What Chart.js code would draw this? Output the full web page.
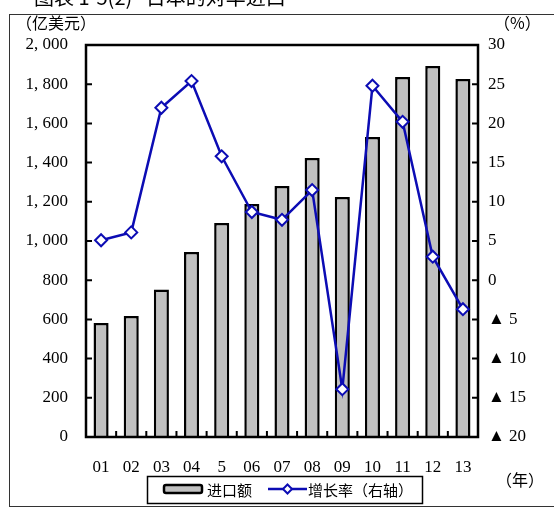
<!DOCTYPE html>
<html>
<head>
<meta charset="utf-8">
<script src="https://cdn.jsdelivr.net/npm/chart.js@4"></script>
<style>
  body { margin: 0; background: #fff; }
  canvas { display: block; }
</style>
</head>
<body>
<canvas id="js--chart" width="554" height="508" style="width:554px;height:508px"></canvas>
<script>
const years = ['01', '02', '03', '04', '5', '06', '07', '08', '09', '10', '11', '12', '13'];
const imports = [581, 617, 752, 944, 1092, 1189, 1281, 1423, 1224, 1530, 1837, 1893, 1827]; // 亿美元
const growth = [5.1, 6.1, 22.0, 25.4, 15.8, 8.7, 7.7, 11.5, -13.9, 24.8, 20.2, 3.0, -3.7]; // %

const serif = "'Liberation Serif', 'Noto Sans CJK SC', serif";
const cjk = "'Noto Sans CJK SC', sans-serif";
const lineBlue = '#0c0cb4';

const ctx = document.getElementById("js--chart").getContext("2d");

// frame, plot box, inward ticks, unit labels and the legend
const decor = {
    id: 'decor',
    afterDraw(chart) {
        const c = chart.ctx;
        const a = chart.chartArea;
        const yL = chart.scales.y;
        const yR = chart.scales.y2;
        const x = chart.scales.x;
        c.save();

        // cut-off caption at the very top
        c.fillStyle = '#000';
        c.font = '20px ' + cjk;
        c.textBaseline = 'alphabetic';
        c.textAlign = 'left';
        c.fillText('图表 1-5(2)   日本的对华进口', 34, 5);

        // outer frame
        c.strokeStyle = '#333';
        c.lineWidth = 1;
        c.strokeRect(9.5, 14.5, 600, 492);

        // plot box
        c.strokeStyle = '#000';
        c.lineWidth = 2.5;
        c.strokeRect(a.left, a.top, a.right - a.left, a.bottom - a.top);

        // inward ticks
        c.lineWidth = 2;
        c.beginPath();
        yL.ticks.forEach(t => {
            const py = yL.getPixelForValue(t.value);
            c.moveTo(a.left, py); c.lineTo(a.left + 6, py);
        });
        yR.ticks.forEach(t => {
            const py = yR.getPixelForValue(t.value);
            c.moveTo(a.right, py); c.lineTo(a.right - 6, py);
        });
        for (let i = 0; i < years.length; i++) {
            const px = (x.getPixelForValue(i) + x.getPixelForValue(i + 1)) / 2;
            c.moveTo(px, a.bottom); c.lineTo(px, a.bottom - 6);
        }
        c.stroke();

        // unit labels
        c.font = '16px ' + cjk;
        c.textBaseline = 'middle';
        c.fillText('（亿美元）', 16, 23);
        c.fillText('（%）', 494, 23);
        c.fillText('（年）', 496, 480);

        // legend
        c.lineWidth = 1.5;
        c.strokeRect(147.5, 476.5, 275, 27);
        c.fillStyle = '#c0c0c0';
        c.lineWidth = 2.5;
        c.beginPath();
        c.roundRect(164, 485, 38, 8, 2);
        c.fill();
        c.stroke();
        c.fillStyle = '#000';
        c.font = '15px ' + cjk;
        c.fillText('进口额', 207, 490);

        c.strokeStyle = lineBlue;
        c.lineWidth = 2.5;
        c.beginPath();
        c.moveTo(268, 489); c.lineTo(307, 489);
        c.stroke();
        c.fillStyle = '#fff';
        c.lineWidth = 2;
        c.beginPath();
        c.moveTo(287.5, 484.5); c.lineTo(292, 489); c.lineTo(287.5, 493.5); c.lineTo(283, 489);
        c.closePath();
        c.fill(); c.stroke();
        c.fillStyle = '#000';
        c.fillText('增长率（右轴）', 308, 490);

        c.restore();
    }
};

new Chart(ctx, {
    type: 'bar',
    data: {
        labels: years,
        datasets: [{
            label: '增长率（右轴）',
            type: 'line',
            data: growth,
            yAxisID: 'y2',
            borderColor: lineBlue,
            borderWidth: 2.5,
            pointStyle: 'rectRot',
            pointRadius: 6,
            pointBorderWidth: 2,
            pointBackgroundColor: '#fff',
            pointBorderColor: lineBlue,
            tension: 0,
            order: 1
        }, {
            label: '进口额',
            data: imports,
            yAxisID: 'y',
            backgroundColor: '#c0c0c0',
            borderColor: '#000',
            borderWidth: 2.5,
            categoryPercentage: 1,
            barPercentage: 0.5,
            order: 2
        }]
    },
    options: {
        responsive: false,
        animation: false,
        devicePixelRatio: 1,
        layout: { padding: { top: 45, left: 0, right: 0, bottom: 0 } },
        plugins: {
            legend: { display: false },
            tooltip: { enabled: false }
        },
        scales: {
            x: {
                grid: { display: false, drawTicks: false },
                border: { display: false },
                ticks: {
                    color: '#000',
                    font: { family: serif, size: 17 },
                    padding: 20,
                    maxRotation: 0
                },
                afterFit(s) { s.height = 71; }
            },
            y: {
                position: 'left',
                min: 0,
                max: 2000,
                grid: { display: false, drawTicks: false },
                border: { display: false },
                ticks: {
                    stepSize: 200,
                    color: '#000',
                    font: { family: serif, size: 17 },
                    padding: 18,
                    callback: v => v.toLocaleString('en-US').replace(',', ', ')
                },
                afterFit(s) { s.width = 86; }
            },
            y2: {
                position: 'right',
                min: -20,
                max: 30,
                grid: { display: false, drawTicks: false },
                border: { display: false },
                ticks: {
                    stepSize: 5,
                    color: '#000',
                    font: { family: serif, size: 17 },
                    padding: 10,
                    callback: v => v < 0 ? '▲ ' + (-v) : String(v)
                },
                afterFit(s) { s.width = 76; }
            }
        }
    },
    plugins: [decor]
});
</script>
</body>
</html>
